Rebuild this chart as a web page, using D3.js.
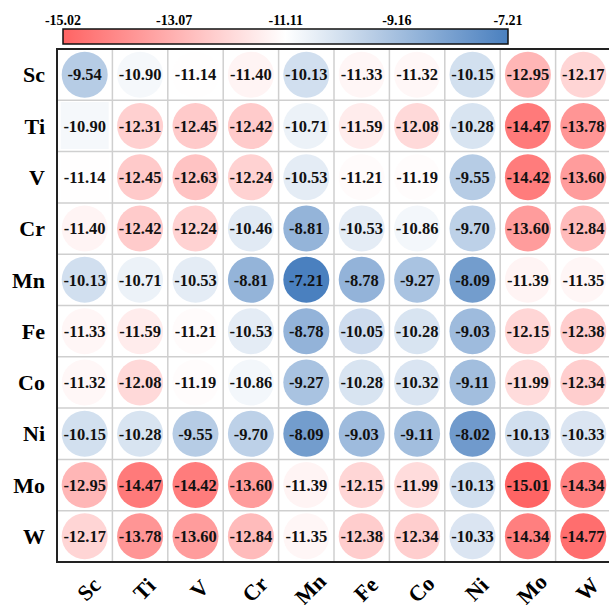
<!DOCTYPE html>
<html>
<head>
<meta charset="utf-8">
<script src="https://cdn.jsdelivr.net/npm/d3@7"></script>
<style>
  body { margin: 0; background: #fff; }
  text { font-family: "Liberation Serif", "Times New Roman", serif; font-weight: bold; }
</style>
</head>
<body>
<svg id="chart"></svg>
<script>
const elements = ["Sc", "Ti", "V", "Cr", "Mn", "Fe", "Co", "Ni", "Mo", "W"];

const values = [
  [-9.54, -10.90, -11.14, -11.40, -10.13, -11.33, -11.32, -10.15, -12.95, -12.17],
  [-10.90, -12.31, -12.45, -12.42, -10.71, -11.59, -12.08, -10.28, -14.47, -13.78],
  [-11.14, -12.45, -12.63, -12.24, -10.53, -11.21, -11.19, -9.55, -14.42, -13.60],
  [-11.40, -12.42, -12.24, -10.46, -8.81, -10.53, -10.86, -9.70, -13.60, -12.84],
  [-10.13, -10.71, -10.53, -8.81, -7.21, -8.78, -9.27, -8.09, -11.39, -11.35],
  [-11.33, -11.59, -11.21, -10.53, -8.78, -10.05, -10.28, -9.03, -12.15, -12.38],
  [-11.32, -12.08, -11.19, -10.86, -9.27, -10.28, -10.32, -9.11, -11.99, -12.34],
  [-10.15, -10.28, -9.55, -9.70, -8.09, -9.03, -9.11, -8.02, -10.13, -10.33],
  [-12.95, -14.47, -14.42, -13.60, -11.39, -12.15, -11.99, -10.13, -15.01, -14.34],
  [-12.17, -13.78, -13.60, -12.84, -11.35, -12.38, -12.34, -10.33, -14.34, -14.77]
];

// cells drawn as squares in the original
const squareCells = [["Ti", "Sc"], ["V", "Sc"]];

const barTicks = [-15.02, -13.07, -11.11, -9.16, -7.21];

const width = 609, height = 605;
const grid = { left: 57, top: 49, right: 611, bottom: 562 };

const svg = d3.select("#chart").attr("width", width).attr("height", height);

const x = d3.scaleBand().domain(elements).range([grid.left, grid.right]);
const y = d3.scaleBand().domain(elements).range([grid.top, grid.bottom]);

const vmin = barTicks[0], vmax = barTicks[barTicks.length - 1];
const color = d3.scaleLinear()
  .domain([vmin, (vmin + vmax) / 2, vmax])
  .range(["#ff6464", "#ffffff", "#4a80bf"]);

// colorbar
const defs = svg.append("defs");
const grad = defs.append("linearGradient").attr("id", "cbar")
  .attr("x1", "0%").attr("x2", "100%").attr("y1", "0%").attr("y2", "0%");
d3.range(0, 1.0001, 0.1).forEach(t => {
  grad.append("stop").attr("offset", (t * 100) + "%")
    .attr("stop-color", color(vmin + t * (vmax - vmin)));
});

const cb = d3.scaleLinear().domain([vmin, vmax]).range([63, 508]);
svg.append("rect")
  .attr("x", cb.range()[0]).attr("y", 29)
  .attr("width", cb.range()[1] - cb.range()[0]).attr("height", 15)
  .attr("fill", "url(#cbar)")
  .attr("stroke", "#111").attr("stroke-width", 1.5);

svg.selectAll(".cbtick")
  .data(barTicks)
  .enter()
  .append("text")
  .attr("x", d => cb(d))
  .attr("y", 25)
  .attr("text-anchor", "middle")
  .attr("font-size", 14)
  .text(d => d.toFixed(2));

// cells
const cells = [];
values.forEach((row, i) => {
  row.forEach((v, j) => {
    cells.push({ r: elements[i], c: elements[j], v: v });
  });
});
const isSquare = d => squareCells.some(s => s[0] === d.r && s[1] === d.c);

// grid lines
const g = svg.append("g");
g.selectAll(".vline")
  .data(elements.slice(1))
  .enter()
  .append("line")
  .attr("x1", d => x(d)).attr("x2", d => x(d))
  .attr("y1", grid.top).attr("y2", grid.bottom)
  .attr("stroke", "#cfcfcf").attr("stroke-width", 1.5);
g.selectAll(".hline")
  .data(elements.slice(1))
  .enter()
  .append("line")
  .attr("y1", d => y(d)).attr("y2", d => y(d))
  .attr("x1", grid.left).attr("x2", grid.right)
  .attr("stroke", "#cfcfcf").attr("stroke-width", 1.5);

const r = 23;
g.selectAll("circle")
  .data(cells.filter(d => !isSquare(d)))
  .enter()
  .append("circle")
  .attr("cx", d => x(d.c) + x.bandwidth() / 2)
  .attr("cy", d => y(d.r) + y.bandwidth() / 2)
  .attr("r", r)
  .attr("fill", d => color(d.v));

g.selectAll(".sq")
  .data(cells.filter(isSquare))
  .enter()
  .append("rect")
  .attr("x", d => x(d.c) + x.bandwidth() / 2 - 24)
  .attr("y", d => y(d.r) + y.bandwidth() / 2 - 24)
  .attr("width", 48).attr("height", 47)
  .attr("fill", d => color(d.v));

g.selectAll(".val")
  .data(cells)
  .enter()
  .append("text")
  .attr("x", d => x(d.c) + x.bandwidth() / 2)
  .attr("y", d => y(d.r) + y.bandwidth() / 2)
  .attr("dy", "0.35em")
  .attr("text-anchor", "middle")
  .attr("font-size", 16.5)
  .attr("fill", "#111")
  .text(d => d.v.toFixed(2));

// border
svg.append("rect")
  .attr("x", grid.left).attr("y", grid.top)
  .attr("width", grid.right - grid.left).attr("height", grid.bottom - grid.top)
  .attr("fill", "none").attr("stroke", "#222").attr("stroke-width", 2);

// row labels
svg.selectAll(".rowlab")
  .data(elements)
  .enter()
  .append("text")
  .attr("x", 45)
  .attr("y", d => y(d) + y.bandwidth() / 2)
  .attr("dy", "0.35em")
  .attr("text-anchor", "end")
  .attr("font-size", 22)
  .text(d => d);

// column labels, rotated 45deg
const labY = 589;
const labX = d => x(d) + x.bandwidth() / 2 + 4;
const colLab = svg.selectAll(".collab")
  .data(elements)
  .enter()
  .append("g")
  .attr("class", "collab")
  .attr("transform", d => `translate(${labX(d)},${labY}) rotate(-45)`);

colLab.append("text")
  .attr("x", 0)
  .attr("y", 0)
  .attr("dy", "0.35em")
  .attr("text-anchor", "middle")
  .attr("font-size", 22)
  .text(d => d);
</script>
</body>
</html>
